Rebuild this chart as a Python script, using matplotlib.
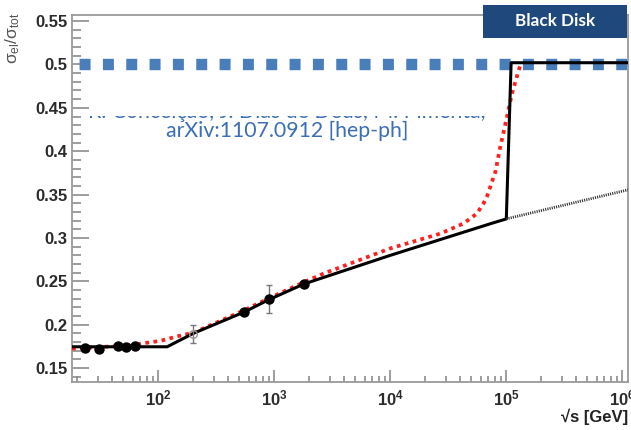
import numpy as np
import matplotlib
matplotlib.use("Agg")
import matplotlib.pyplot as plt
from matplotlib.patches import Rectangle
from matplotlib.ticker import FixedLocator, NullFormatter, FuncFormatter

plt.rcParams['font.family'] = ['Liberation Sans', 'DejaVu Sans']
plt.rcParams['mathtext.fontset'] = 'custom'
plt.rcParams['mathtext.rm'] = 'Liberation Sans'
plt.rcParams['mathtext.it'] = 'Liberation Sans:italic'
plt.rcParams['mathtext.bf'] = 'Liberation Sans:bold'
plt.rcParams['lines.scale_dashes'] = False

# measured sigma_el / sigma_tot
data_x = [23.5, 30.6, 44.7, 52.8, 62.5, 546, 900, 1800]
data_y = [0.1734, 0.1716, 0.1758, 0.1742, 0.1754, 0.2148, 0.2297, 0.2466]
data_err = [0.0, 0.0, 0.0, 0.0, 0.0, 0.003, 0.016, 0.0]
cr_x = [200]
cr_y = [0.189]
cr_err = [0.0105]

# model curve (solid) with jump to the black disk limit
model_x = [18, 119, 200, 546, 900, 1800, 1.0e4, 7.28e4, 1.0e5, 1.1e5, 1.15e6]
model_y = [0.1746, 0.1746, 0.190, 0.2145, 0.229, 0.247, 0.280, 0.3164, 0.322,
           0.502, 0.502]
# model without the transition (dotted)
cont_x = [1.0e5, 1.12e6]
cont_y = [0.322, 0.3555]
# smooth fit (red)
fit_x = [18, 23.5, 40, 62, 72, 104, 160, 200, 546, 900, 1800, 2660, 1.0e4,
         2.69e4, 4.27e4, 5.56e4, 6.31e4, 6.82e4, 8.04e4, 8.87e4, 1.0e5,
         1.117e5, 1.276e5, 1.337e5]
fit_y = [0.1725, 0.1735, 0.175, 0.176, 0.1784, 0.1814, 0.188, 0.1906, 0.2165,
         0.2305, 0.249, 0.259, 0.288, 0.305, 0.3166, 0.328, 0.339, 0.348,
         0.376, 0.405, 0.436, 0.466, 0.493, 0.501]
black_disk = 0.5

fig = plt.figure(figsize=(6.31, 4.30), dpi=100)
W, H = 631.0, 430.0
ax = fig.add_axes([72 / W, 1 - 382 / H, (628 - 72) / W, (382 - 15) / H])

ax.axhline(black_disk, color='#4a7ebb', lw=8.2, zorder=2,
           linestyle=(11.7, (7.9, 8.9)), dash_capstyle='butt')

ax.plot(fit_x, fit_y, color='#ff1f1f', lw=2.7, linestyle=(0, (2.7, 3.2)),
        dash_capstyle='butt', zorder=3)
ax.plot(model_x, model_y, color='black', lw=2.2, zorder=4)
ax.plot(cont_x, cont_y, color='#333333', lw=2.0, linestyle=(0, (0.8, 0.8)), zorder=4)

ax.errorbar(data_x, data_y, yerr=data_err, fmt='o', color='black', ms=6.5,
            ecolor='#777777', elinewidth=1, capsize=2.5, zorder=5)
ax.errorbar(cr_x, cr_y, yerr=cr_err, fmt='o', color='#999999', ms=5.5, mfc='none',
            ecolor='#777777', elinewidth=1, capsize=2.5, zorder=5)

ax.set_xscale('log')
ax.set_xlim(18, 1.12e6)
ax.set_ylim(0.134, 0.557)

ax.xaxis.set_major_locator(FixedLocator([10, 100, 1e3, 1e4, 1e5, 1e6]))
ax.xaxis.set_major_formatter(FuncFormatter(
    lambda v, p: r'$\mathbf{10^{%d}}$' % round(np.log10(v))))
ax.xaxis.set_minor_locator(FixedLocator(
    [m * 10.0 ** e for e in range(1, 6) for m in range(2, 10)]))
ax.xaxis.set_minor_formatter(NullFormatter())

ax.yaxis.set_major_locator(FixedLocator(np.arange(0.15, 0.56, 0.05)))
ax.yaxis.set_major_formatter(FuncFormatter(lambda v, p: '%g' % round(v, 2)))
ax.yaxis.set_minor_locator(FixedLocator(np.arange(0.14, 0.556, 0.01)))

ax.tick_params(axis='both', which='both', direction='in', colors='#8c8c8c',
               labelcolor='#2b2b2b', labelsize=12, width=1.2)
ax.tick_params(axis='y', which='major', length=12, pad=3)
ax.tick_params(axis='y', which='minor', length=6.5)
ax.tick_params(axis='x', which='major', length=8.5, pad=5)
ax.tick_params(axis='x', which='minor', length=4.5)
for lab in ax.get_yticklabels():
    lab.set_fontweight('bold')
for side in ax.spines.values():
    side.set_color('#9a9a9a')
    side.set_linewidth(1.3)

# axis titles
fig.text(13 / W, 1 - 38 / H, r'$\mathrm{\sigma_{el}/\sigma_{tot}}$', rotation=90,
         ha='center', va='center', fontsize=12.5, color='#555555')
fig.text(628 / W, 1 - 417 / H, '√s [GeV]', ha='right', va='center',
         fontsize=12, fontweight='bold', color='#222222')

# black disk tag
fig.patches.append(Rectangle((483 / W, 1 - 38 / H), (627 - 483) / W, 33 / H,
                             transform=fig.transFigure, facecolor='#1f497d',
                             edgecolor='none', zorder=6))
fig.text(555 / W, 1 - 21 / H, 'Black Disk', ha='center', va='center',
         family='Lato', fontweight='bold', fontsize=12.3, color='white', zorder=7)

# reference line, top of the first row covered by a white box
fig.text(88 / W, 1 - 117.5 / H, 'R. Conceição, J. Dias de Deus, M. Pimenta,',
         ha='left', va='baseline', family='Lato', fontsize=15.3,
         color='#3c6eb4', zorder=3)
fig.patches.append(Rectangle((89.5 / W, 1 - 115.5 / H), (498 - 89.5) / W, 22 / H,
                             transform=fig.transFigure, facecolor='white',
                             edgecolor='none', zorder=4))
fig.text(287 / W, 1 - 137 / H, 'arXiv:1107.0912 [hep-ph]', ha='center',
         va='baseline', family='Lato', fontsize=15.3, color='#3c6eb4')

fig.savefig('out.png', dpi=100)
